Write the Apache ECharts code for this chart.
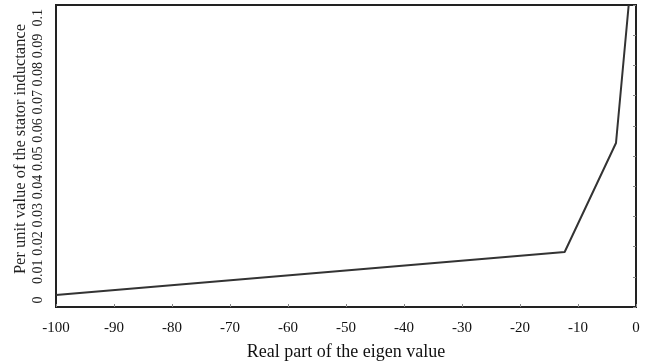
<!DOCTYPE html>
<html>
<head>
<meta charset="utf-8">
<script src="https://cdn.jsdelivr.net/npm/echarts@6/dist/echarts.min.js"></script>
<style>html,body{margin:0;padding:0;background:#fff}#c{width:646px;height:361px}</style>
</head>
<body>
<div id="c"></div>
<script>
var realPart = [-100, -12.3, -3.45, -1.26];
var inductance = [0.004, 0.0182, 0.0543, 0.1];
var xTicks = [-100, -90, -80, -70, -60, -50, -40, -30, -20, -10, 0];
var yTicks = [0, 0.01, 0.02, 0.03, 0.04, 0.05, 0.06, 0.07, 0.08, 0.09, 0.1];

var font = 'Liberation Serif';
var chart = echarts.init(document.getElementById('c'));
chart.setOption({
  animation: false,
  grid: {left: 56, right: 10, top: 5, bottom: 54, show: true, borderColor: '#222', borderWidth: 2,
         backgroundColor: 'transparent', outerBoundsMode: 'none', containLabel: false},
  xAxis: {
    type: 'value', min: xTicks[0], max: xTicks[xTicks.length - 1], interval: 10,
    axisLine: {show: true, onZero: false, lineStyle: {color: '#222', width: 2}},
    axisTick: {show: true, inside: true, length: 3, lineStyle: {color: '#888'}},
    splitLine: {show: false},
    axisLabel: {fontFamily: font, fontSize: 15, color: '#111', margin: 14},
    name: 'Real part of the eigen value', nameLocation: 'middle', nameGap: 36,
    nameTextStyle: {fontFamily: font, fontSize: 18, color: '#111'}
  },
  yAxis: [{
    type: 'value', min: -0.0025, max: 0.1045,
    axisLine: {show: true, onZero: false, lineStyle: {color: '#222', width: 2}},
    axisTick: {show: false},
    splitLine: {show: false},
    axisLabel: {fontFamily: font, fontSize: 14, color: '#222', rotate: 90, margin: 11,
      customValues: yTicks, showMinLabel: true, showMaxLabel: true,
      formatter: function (v) { return String(+v.toFixed(2)); }},
    name: 'Per unit value of the stator inductance', nameLocation: 'middle', nameGap: 27,
    nameMoveOverlap: false,
    nameTextStyle: {fontFamily: font, fontSize: 16.5, color: '#222', padding: [0, 0, 0, 14]}
  }, {
    type: 'value', min: yTicks[0], max: yTicks[yTicks.length - 1], interval: 0.01, position: 'right',
    axisLine: {show: true, onZero: false, lineStyle: {color: '#222', width: 2}},
    axisTick: {show: true, inside: true, length: 3, lineStyle: {color: '#888'}},
    axisLabel: {show: false}, splitLine: {show: false}
  }],
  series: [{
    type: 'line', yAxisIndex: 1, data: realPart.map(function (x, i) { return [x, inductance[i]]; }),
    showSymbol: false, symbol: 'none', clip: true,
    lineStyle: {color: '#333', width: 2}
  }]
});
</script>
</body>
</html>
